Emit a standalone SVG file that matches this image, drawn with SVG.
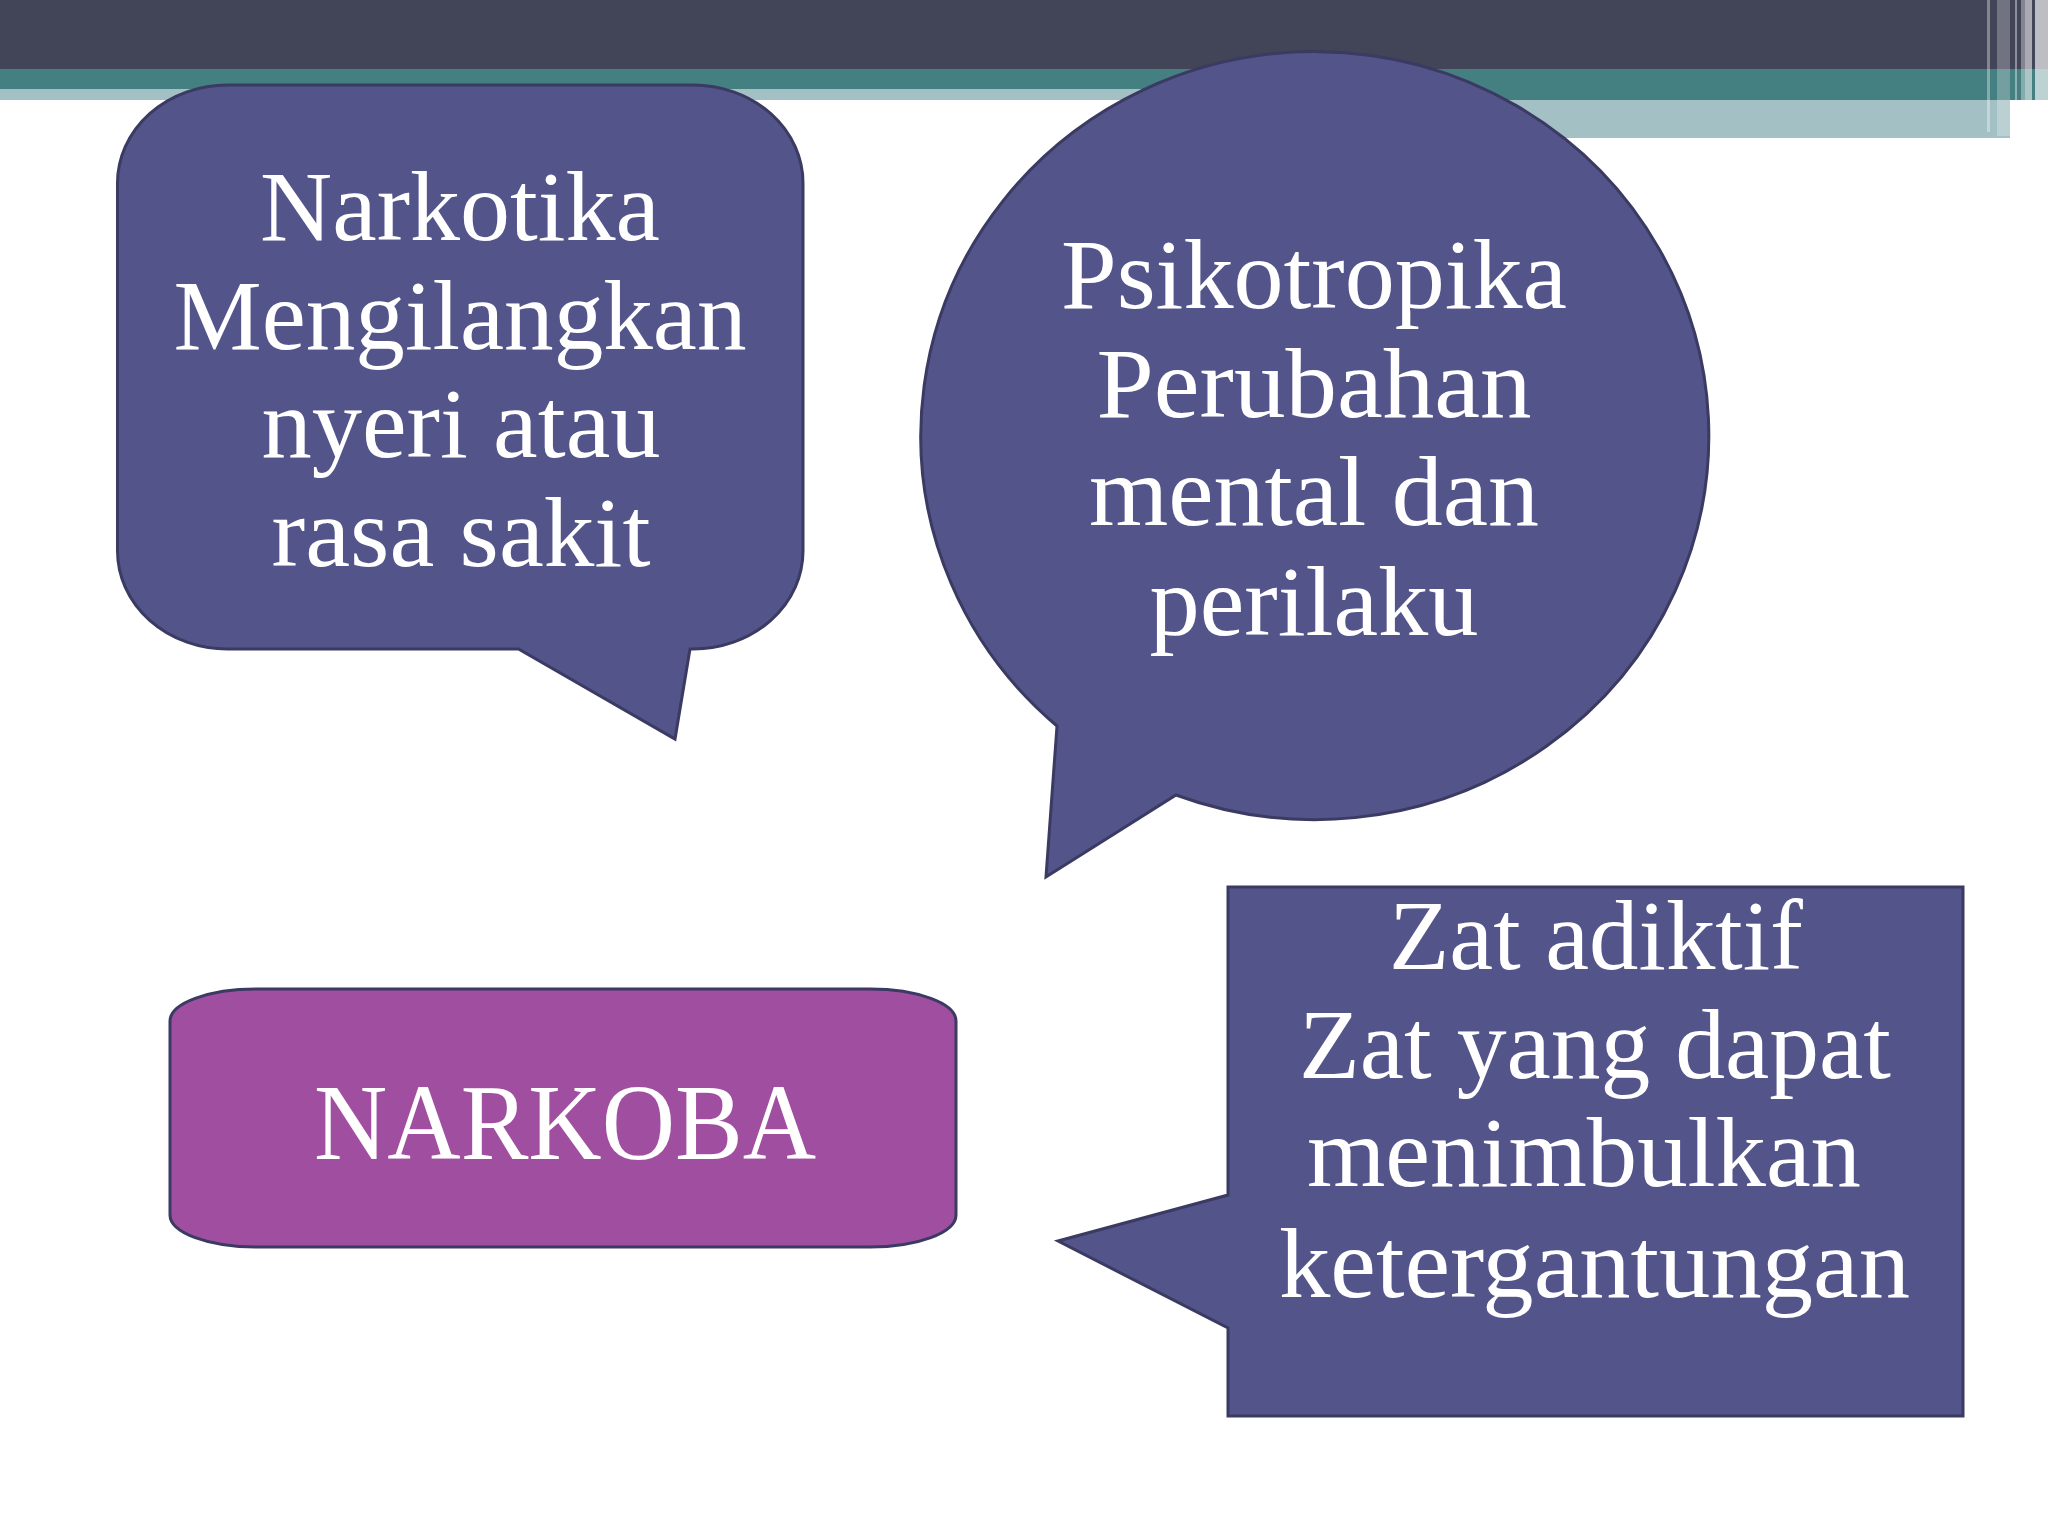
<svg xmlns="http://www.w3.org/2000/svg" width="2048" height="1536" viewBox="0 0 2048 1536">
<style>
.bubble{fill:#53548a;stroke:#3a3a62;stroke-width:3;stroke-linejoin:miter}
.pink{fill:#a04fa0;stroke:#3a3a62;stroke-width:3}
.t{font-family:"Liberation Serif","Times New Roman",serif;font-size:100px;fill:#ffffff;text-anchor:middle}
</style>
<rect x="0" y="0" width="2048" height="1536" fill="#ffffff"/>
<g id="header">
<rect x="0" y="0" width="2048" height="69" fill="#424457"/>
<rect x="0" y="69" width="2048" height="20" fill="#447f81"/>
<rect x="0" y="89" width="1300" height="11" fill="#a3c1c4"/>
<rect x="1300" y="89" width="748" height="11" fill="#447f81"/>
<rect x="1300" y="100" width="710" height="38" fill="#a3c1c4"/>
<rect x="1987" y="0" width="3" height="132" fill="#ffffff" opacity="0.35"/>
<rect x="1997" y="0" width="13" height="136" fill="#ffffff" opacity="0.25"/>
<rect x="2015" y="0" width="2" height="138" fill="#ffffff" opacity="0.4"/>
<rect x="2021" y="0" width="4" height="138" fill="#ffffff" opacity="0.35"/>
<rect x="2025" y="0" width="7" height="138" fill="#ffffff" opacity="0.55"/>
<rect x="2035" y="0" width="13" height="138" fill="#ffffff" opacity="0.65"/>
</g>
<g id="connectors"></g>
<g id="narkotika">
<path class="bubble" d="M227.5 85 H693 A110 98 0 0 1 803 183 V551 A110 98 0 0 1 693 649 H690 L675 739 L518.5 649 H227.5 A110 98 0 0 1 117.5 551 V183 A110 98 0 0 1 227.5 85 Z"/>
<text class="t" x="460" y="240" textLength="400" lengthAdjust="spacingAndGlyphs">Narkotika</text>
<text class="t" x="460" y="349" textLength="573" lengthAdjust="spacingAndGlyphs">Mengilangkan</text>
<text class="t" x="461" y="457" textLength="399" lengthAdjust="spacingAndGlyphs">nyeri atau</text>
<text class="t" x="461" y="566" textLength="379" lengthAdjust="spacingAndGlyphs">rasa sakit</text>
</g>
<g id="psikotropika">
<path class="bubble" d="M1176 795 A394 384 0 1 0 1057 726 L1046 877 Z"/>
<text class="t" x="1314" y="308" textLength="506" lengthAdjust="spacingAndGlyphs">Psikotropika</text>
<text class="t" x="1314" y="417" textLength="435" lengthAdjust="spacingAndGlyphs">Perubahan</text>
<text class="t" x="1314" y="525" textLength="450" lengthAdjust="spacingAndGlyphs">mental dan</text>
<text class="t" x="1314" y="635" textLength="329" lengthAdjust="spacingAndGlyphs">perilaku</text>
</g>
<g id="narkoba">
<rect class="pink" x="170" y="989" width="786" height="258" rx="86" ry="32"/>
<text class="t" x="565" y="1159" style="font-size:108px" textLength="502" lengthAdjust="spacingAndGlyphs">NARKOBA</text>
</g>
<g id="zat-adiktif">
<path class="bubble" d="M1228 887 H1963 V1416 H1228 V1328 L1058 1241 L1228 1195 Z"/>
<text class="t" x="1596" y="969" textLength="414" lengthAdjust="spacingAndGlyphs">Zat adiktif</text>
<text class="t" x="1595" y="1078" textLength="592" lengthAdjust="spacingAndGlyphs">Zat yang dapat</text>
<text class="t" x="1584" y="1186" textLength="554" lengthAdjust="spacingAndGlyphs">menimbulkan</text>
<text class="t" x="1594.5" y="1297" textLength="631" lengthAdjust="spacingAndGlyphs">ketergantungan</text>
</g>
</svg>
